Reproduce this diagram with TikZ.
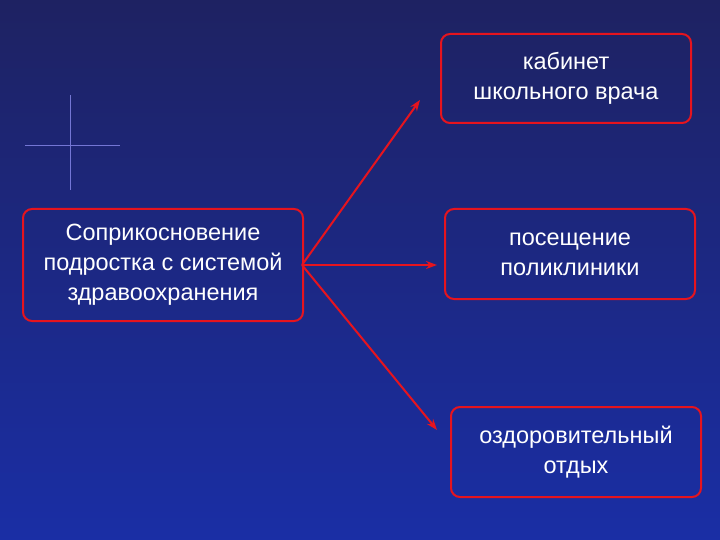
\documentclass[tikz,border=0pt]{standalone}
\usepackage{fontspec}
\setmainfont{Liberation Sans}
\usetikzlibrary{arrows.meta}
\begin{document}
\begin{tikzpicture}[x=1pt,y=-1pt,
  box/.style={draw={rgb,255:red,230;green,20;blue,30},line width=2pt,rounded corners=9pt,text=white,align=center,font=\fontsize{23.5}{30}\selectfont,anchor=north west,inner sep=0pt},
  arr/.style={draw={rgb,255:red,230;green,20;blue,30},line width=2pt,-{Stealth[length=11pt,width=8pt]}}]
\shade[top color={rgb,255:red,30;green,34;blue,98},bottom color={rgb,255:red,26;green,46;blue,165}] (0,0) rectangle (720,540);
\useasboundingbox (0,0) rectangle (720,540);
\draw[blue!40!white,opacity=0.7,line width=0.6pt] (70,95) -- (70,190) (25,145) -- (120,145);
\node[box,minimum width=280pt,minimum height=112pt] (src) at (22,208) {Соприкосновение\\подростка с системой\\здравоохранения};
\node[box,minimum width=250pt,minimum height=89pt] (a) at (440,33) {кабинет\\школьного врача};
\node[box,minimum width=250pt,minimum height=90pt] (b) at (444,208) {посещение\\поликлиники};
\node[box,minimum width=250pt,minimum height=90pt] (c) at (450,406) {оздоровительный\\отдых};
\coordinate (o) at (302,265);
\draw[arr] (o) -- (420,100);
\draw[arr] (o) -- (437,265);
\draw[arr] (o) -- (437,430);
\end{tikzpicture}
\end{document}
